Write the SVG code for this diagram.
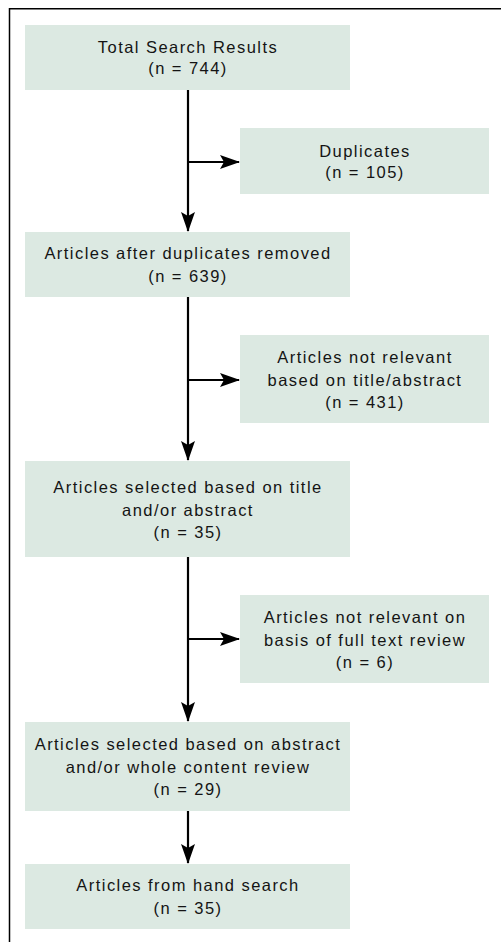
<svg xmlns="http://www.w3.org/2000/svg" width="501" height="942" viewBox="0 0 501 942">
<style>
.box{fill:#dce9e2;}
.t{font-family:"Liberation Sans",Arial,sans-serif;font-size:16.5px;letter-spacing:1.45px;fill:#141414;text-anchor:middle;}
.c{stroke:#000;stroke-width:2.2;fill:none;}
</style>
<defs>
<marker id="ah" viewBox="0 0 20 14" refX="19" refY="7" markerWidth="20" markerHeight="14" markerUnits="userSpaceOnUse" orient="auto">
<path d="M0,0 L20,7 L0,14 L4,7 Z" fill="#000"/>
</marker>
</defs>
<path d="M9.5,942 V8.75 H501" stroke="#000" stroke-width="1.5" fill="none"/>
<g id="n1"><rect class="box" x="25" y="25" width="325" height="65"/><text class="t" x="188" y="52.5">Total Search Results</text><text class="t" x="188" y="73.5">(n = 744)</text></g>
<g id="n2"><rect class="box" x="240" y="128" width="249" height="66"/><text class="t" x="365" y="156.5">Duplicates</text><text class="t" x="365" y="178">(n = 105)</text></g>
<g id="n3"><rect class="box" x="25" y="232" width="325" height="65"/><text class="t" x="188" y="259">Articles after duplicates removed</text><text class="t" x="188" y="281.5">(n = 639)</text></g>
<g id="n4"><rect class="box" x="240" y="335" width="249" height="88"/><text class="t" x="365" y="363">Articles not relevant</text><text class="t" x="365" y="385.5">based on title/abstract</text><text class="t" x="365" y="408">(n = 431)</text></g>
<g id="n5"><rect class="box" x="25" y="461" width="325" height="96"/><text class="t" x="188" y="493">Articles selected based on title</text><text class="t" x="188" y="515.5">and/or abstract</text><text class="t" x="188" y="538">(n = 35)</text></g>
<g id="n6"><rect class="box" x="240" y="595" width="249" height="88"/><text class="t" x="365" y="623">Articles not relevant on</text><text class="t" x="365" y="645.5">basis of full text review</text><text class="t" x="365" y="668">(n = 6)</text></g>
<g id="n7"><rect class="box" x="25" y="722" width="325" height="89"/><text class="t" x="188" y="750">Articles selected based on abstract</text><text class="t" x="188" y="772.5">and/or whole content review</text><text class="t" x="188" y="795">(n = 29)</text></g>
<g id="n8"><rect class="box" x="25" y="864" width="325" height="65"/><text class="t" x="188" y="891">Articles from hand search</text><text class="t" x="188" y="913.5">(n = 35)</text></g>
<g id="connectors">
<path class="c" d="M188,90 V231" marker-end="url(#ah)"/>
<path class="c" d="M188,162 H239" marker-end="url(#ah)"/>
<path class="c" d="M188,297 V460" marker-end="url(#ah)"/>
<path class="c" d="M188,380 H239" marker-end="url(#ah)"/>
<path class="c" d="M188,557 V721" marker-end="url(#ah)"/>
<path class="c" d="M188,639 H239" marker-end="url(#ah)"/>
<path class="c" d="M188,811 V863" marker-end="url(#ah)"/>
</g>
</svg>
